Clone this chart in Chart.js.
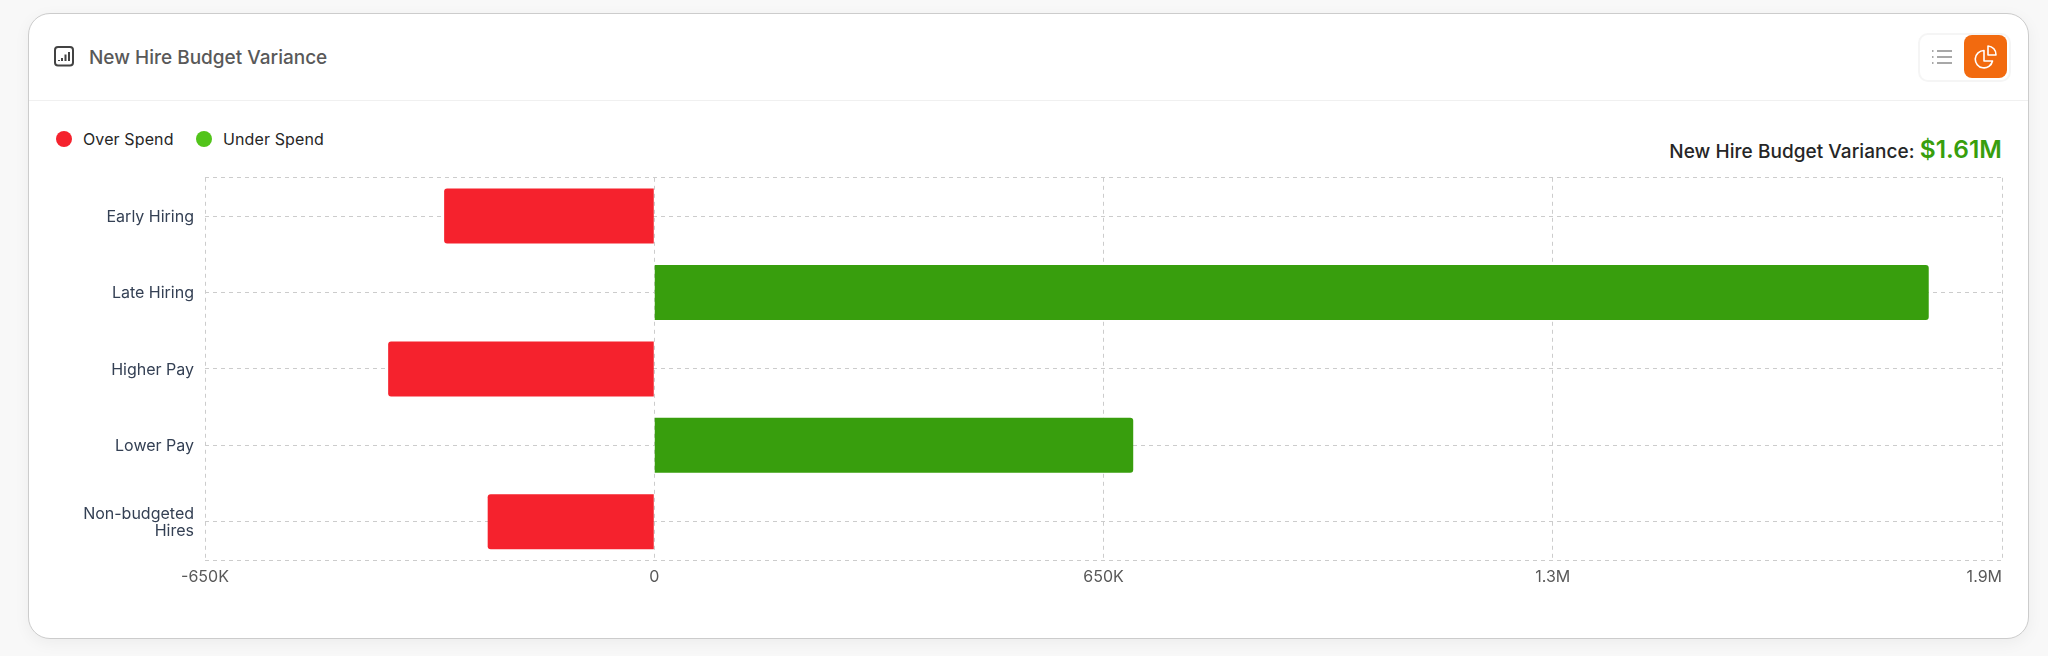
<!DOCTYPE html>
<html>
<head>
<meta charset="utf-8">
<script src="https://cdn.jsdelivr.net/npm/chart.js@4/dist/chart.umd.js"></script>
<style>
html,body{margin:0;padding:0;background:#f8f8f8;font-family:Inter,sans-serif}
body{width:2048px;height:656px;overflow:hidden;position:relative}
.card{position:absolute;left:28px;top:13px;width:1999px;height:624px;background:#fff;border:1px solid #ccc;border-radius:22px;box-shadow:0 4px 16px rgba(0,0,0,.05)}
.abs{position:absolute;white-space:nowrap}
.divider{position:absolute;left:29px;top:100px;width:1999px;height:1px;background:#f0f0f0}
.title{left:89px;top:46px;font-size:19px;line-height:23px;font-weight:500;color:#595959}
.legend{top:127px;font-size:16px;line-height:24px;color:#262626;letter-spacing:.12px}
.dot{position:absolute;width:16px;height:16px;border-radius:50%;top:131px}
.total{right:46px;top:134px;font-size:19px;line-height:30px;font-weight:500;color:#262626;letter-spacing:.05px}
.total b{font-size:24.500px;font-weight:600;color:#389e0d}
.toggle{position:absolute;left:1918px;top:33px;width:89px;height:45px;border:2px solid #f5f5f5;border-radius:10px;background:#fff}
.active{position:absolute;left:1964px;top:35px;width:43px;height:43px;background:#f26a0f;border-radius:8px}
canvas{position:absolute;left:30px;top:150px}
svg{position:absolute}
</style>
</head>
<body>
<div class="card"></div>
<div class="divider"></div>
<svg style="left:53px;top:45px" width="22" height="22" viewBox="0 0 22 22" fill="none" stroke="#434343">
<rect x="2" y="2" width="18" height="18.500" rx="3" stroke-width="2"/>
<path d="M6 16v-1M9 16v-3M12.500 16v-6.500M16 16v-9" stroke-width="2"/>
</svg>
<div class="abs title">New Hire Budget Variance</div>
<div class="toggle"></div>
<svg style="left:1931px;top:48px" width="22" height="18" viewBox="0 0 22 18" fill="none" stroke="#8c8c8c" stroke-width="1.500">
<path d="M6 3h15M6 9h15M6 15h15"/><path d="M1 3h1.500M1 9h1.500M1 15h1.500"/>
</svg>
<div class="active"></div>
<svg style="left:1973px;top:44px" width="25" height="25" viewBox="0 0 25 25" fill="none" stroke="#fff" stroke-width="1.600" stroke-linejoin="round">
<path d="M11 6.500a8.700 8.700 0 1 0 8.500 10.500h-8.500z"/>
<path d="M15 2a8.500 8.500 0 0 1 8 9h-8z"/>
</svg>
<div class="dot" id="dot0" style="left:56px"></div>
<div class="abs legend" id="leg0" style="left:83px"></div>
<div class="dot" id="dot1" style="left:196px"></div>
<div class="abs legend" id="leg1" style="left:223px"></div>
<div class="abs total">New Hire Budget Variance: <b id="total"></b></div>
<canvas id="myChart" width="1998" height="450"></canvas>
<script>
var categories=['Early Hiring','Late Hiring','Higher Pay','Lower Pay',['Non-budgeted','Hires']]
var seriesNames=['Over Spend','Under Spend']
var overSpend=[-304000,null,-385000,null,-241000]
var underSpend=[null,1844000,null,693000,null]
var tickValues=[-650000,0,650000,1300000,1950000]
var tickLabels=['-650K','0','650K','1.3M','1.9M']
var barColors=['#f5222d','#389e0d']
var legendColors=['#f5222d','#52c41a']
var totalLabel='$1.61M'

document.getElementById('leg0').textContent=seriesNames[0]
document.getElementById('leg1').textContent=seriesNames[1]
document.getElementById('dot0').style.background=legendColors[0]
document.getElementById('dot1').style.background=legendColors[1]
document.getElementById('total').textContent=totalLabel

var dash=[4,4]
var gridColor='#cccccc'

// the last x label sits inside the plot instead of centred on its tick
var lastLabelInside={
    id:'lastLabelInside',
    beforeDraw:function(chart){
        var items=chart.scales.x.getLabelItems()
        items[items.length-1].options.textAlign='right'
        items[items.length-1].options.translation[0]=chart.scales.x.right
    }
}

var ctx=document.getElementById('myChart')
ctx.getContext('2d').letterSpacing='0.15px'
var myChart=new Chart(ctx,{
    type:'bar',
    plugins:[lastLabelInside],
    data:{
        labels:categories,
        datasets:[{
            label:seriesNames[0],
            data:overSpend,
            backgroundColor:barColors[0],
            borderRadius:3,
            categoryPercentage:1,
            barPercentage:0.72,
        },{
            label:seriesNames[1],
            data:underSpend,
            backgroundColor:barColors[1],
            borderRadius:3,
            categoryPercentage:1,
            barPercentage:0.72,
        }],
    },
    options:{
        indexAxis:'y',
        responsive:false,
        animation:false,
        layout:{padding:{top:8,right:26,bottom:0,left:0}},
        plugins:{legend:{display:false},tooltip:{enabled:false}},
        scales:{
            x:{
                stacked:true,
                min:-650000,
                max:1950000,
                afterBuildTicks:function(scale){
                    scale.ticks=tickValues.map(function(v){return {value:v}})
                },
                afterFit:function(scale){scale.height=40},
                grid:{color:gridColor,drawTicks:false},
                border:{display:false,dash:dash},
                ticks:{
                    maxRotation:0,
                    padding:8,
                    color:'#595959',
                    font:{family:'Inter',size:16},
                    callback:function(value,i){return tickLabels[i]},
                },
            },
            y:{
                stacked:true,
                afterFit:function(scale){scale.width=175},
                grid:{color:gridColor,drawTicks:false,offset:false},
                border:{display:false,dash:dash},
                ticks:{
                    padding:11,
                    labelOffset:1,
                    color:'#344054',
                    font:{family:'Inter',size:16,lineHeight:1.05},
                },
            },
            // only there for the dashed lines along the top and bottom of the plot
            yFrame:{
                type:'linear',
                position:'left',
                min:0,
                max:1,
                afterBuildTicks:function(scale){
                    scale.ticks=[{value:0},{value:1}]
                },
                afterFit:function(scale){scale.width=0},
                grid:{color:gridColor,drawTicks:false},
                border:{display:false,dash:dash},
                ticks:{display:false},
            },
        },
    },
})
</script>
</body>
</html>
